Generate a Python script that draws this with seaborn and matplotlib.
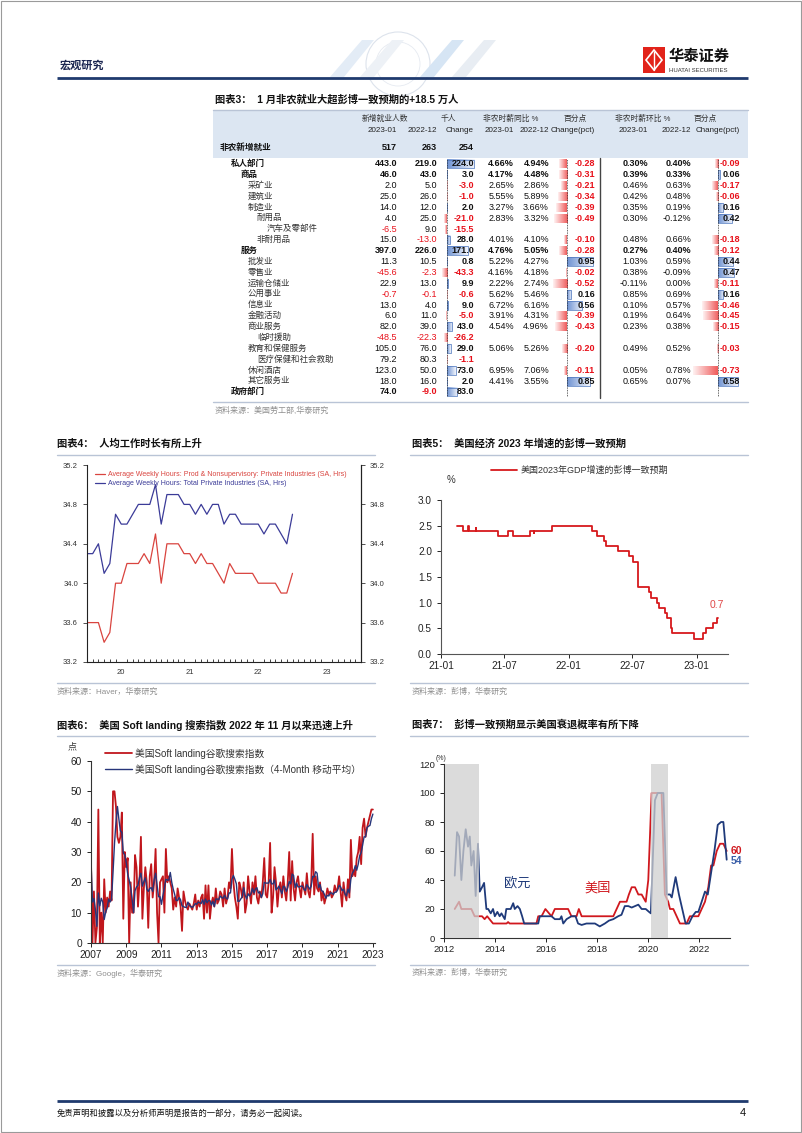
import numpy as np
import pandas as pd
import matplotlib
matplotlib.use("Agg")
import matplotlib.pyplot as plt
from matplotlib.patches import Rectangle, Polygon, Circle
from matplotlib.colors import LinearSegmentedColormap
import matplotlib.dates as mdates
import seaborn as sns

nan = np.nan
# ====================== DATA ======================
# ---- 图表3 table ----
table_title = "图表3：  1 月非农就业大超彭博一致预期的+18.5 万人"
header_top = ["新增就业人数", "千人", "非农时薪同比 %", "百分点", "非农时薪环比 %", "百分点"]
header_cols = ["2023-01", "2022-12", "Change", "2023-01", "2022-12", "Change(pct)",
               "2023-01", "2022-12", "Change(pct)"]
total_label = "非农新增就业"
total_vals = [517, 263, 254]
row_labels = ["私人部门", "商品", "采矿业", "建筑业", "制造业", "耐用品", "汽车及零部件", "非耐用品",
              "服务", "批发业", "零售业", "运输仓储业", "公用事业", "信息业", "金融活动", "商业服务",
              "临时援助", "教育和保健服务", "医疗保健和社会救助", "休闲酒店", "其它服务业", "政府部门"]
row_level = [0, 1, 2, 2, 2, 3, 4, 3, 1, 2, 2, 2, 2, 2, 2, 2, 3, 2, 3, 2, 2, 0]
bold_rows = [0, 1, 8, 21]
emp_jan = [443.0, 46.0, 2.0, 25.0, 14.0, 4.0, -6.5, 15.0, 397.0, 11.3, -45.6, 22.9, -0.7, 13.0,
           6.0, 82.0, -48.5, 105.0, 79.2, 123.0, 18.0, 74.0]
emp_dec = [219.0, 43.0, 5.0, 26.0, 12.0, 25.0, 9.0, -13.0, 226.0, 10.5, -2.3, 13.0, -0.1, 4.0,
           11.0, 39.0, -22.3, 76.0, 80.3, 50.0, 16.0, -9.0]
emp_chg = [224.0, 3.0, -3.0, -1.0, 2.0, -21.0, -15.5, 28.0, 171.0, 0.8, -43.3, 9.9, -0.6, 9.0,
           -5.0, 43.0, -26.2, 29.0, -1.1, 73.0, 2.0, 83.0]
yoy_jan = [4.66, 4.17, 2.65, 5.55, 3.27, 2.83, nan, 4.01, 4.76, 5.22, 4.16, 2.22, 5.62, 6.72,
           3.91, 4.54, nan, 5.06, nan, 6.95, 4.41, nan]
yoy_dec = [4.94, 4.48, 2.86, 5.89, 3.66, 3.32, nan, 4.10, 5.05, 4.27, 4.18, 2.74, 5.46, 6.16,
           4.31, 4.96, nan, 5.26, nan, 7.06, 3.55, nan]
yoy_chg = [-0.28, -0.31, -0.21, -0.34, -0.39, -0.49, nan, -0.10, -0.28, 0.95, -0.02, -0.52, 0.16,
           0.56, -0.39, -0.43, nan, -0.20, nan, -0.11, 0.85, nan]
mom_jan = [0.30, 0.39, 0.46, 0.42, 0.35, 0.30, nan, 0.48, 0.27, 1.03, 0.38, -0.11, 0.85, 0.10,
           0.19, 0.23, nan, 0.49, nan, 0.05, 0.65, nan]
mom_dec = [0.40, 0.33, 0.63, 0.48, 0.19, -0.12, nan, 0.66, 0.40, 0.59, -0.09, 0.00, 0.69, 0.57,
           0.64, 0.38, nan, 0.52, nan, 0.78, 0.07, nan]
mom_chg = [-0.09, 0.06, -0.17, -0.06, 0.16, 0.42, nan, -0.18, -0.12, 0.44, 0.47, -0.11, 0.16,
           -0.46, -0.45, -0.15, nan, -0.03, nan, -0.73, 0.58, nan]

# ---- 图表4 weekly hours, monthly 2020-01 .. 2023-01 ----
hours_prod = [33.6, 33.6, 33.6, 33.4, 33.5, 34.0, 34.0, 34.2, 34.2, 34.2, 34.3, 34.2,
              34.5, 34.0, 34.4, 34.4, 34.4, 34.3, 34.3, 34.2, 34.3, 34.2, 34.2, 34.1,
              34.0, 34.2, 34.1, 34.1, 34.1, 34.1, 34.0, 34.0, 34.0, 34.0, 33.9, 33.9,
              34.1]
hours_total = [34.3, 34.3, 34.4, 34.1, 34.2, 34.7, 34.6, 34.6, 34.7, 34.8, 34.8, 34.8,
               35.0, 34.6, 34.9, 34.9, 34.9, 34.8, 34.8, 34.7, 34.8, 34.7, 34.8, 34.8,
               34.6, 34.7, 34.7, 34.6, 34.6, 34.6, 34.6, 34.5, 34.6, 34.6, 34.5, 34.4,
               34.7]
hours_year_labels = ["20", "21", "22", "23"]
hours_ticks = [33.2, 33.6, 34.0, 34.4, 34.8, 35.2]

# ---- 图表5 GDP 2023 consensus (step series) ----
gdp_dates = ["2021-02-15", "2021-03-04", "2021-03-19", "2021-03-21", "2021-04-10", "2021-04-11",
             "2021-06-12", "2021-07-10", "2021-07-27", "2021-09-13", "2021-09-23", "2021-09-25",
             "2021-11-15", "2022-03-09", "2022-03-23", "2022-04-12", "2022-04-16", "2022-05-22",
             "2022-06-21", "2022-07-03", "2022-07-19", "2022-08-18", "2022-08-25", "2022-09-09",
             "2022-09-16", "2022-10-03", "2022-10-10", "2022-10-19", "2022-10-24", "2022-12-25",
             "2023-01-19", "2023-01-28", "2023-02-16", "2023-03-01", "2023-03-04"]
gdp_vals = [2.5, 2.4, 2.5, 2.4, 2.45, 2.4,
            2.3, 2.4, 2.3, 2.4, 2.35, 2.4,
            2.5, 2.4, 2.3, 2.2, 2.1, 2.0,
            1.9, 1.8, 1.3, 1.2, 1.1, 1.0,
            0.9, 0.8, 0.7, 0.5, 0.4, 0.3,
            0.4, 0.5, 0.6, 0.7, 0.7]

# ---- 图表6 Google search index, monthly 2007-01 .. 2023-01 ----
soft_2007 = [27, 0, 17, 0, 5, 44, 0, 10, 0, 21, 10, 15]
soft_2008 = [12, 17, 14, 50, 50, 45, 35, 33, 35, 43, 8, 30]
soft_2009 = [25, 28, 0, 20, 10, 10, 29, 25, 12, 20, 35, 8]
soft_2010 = [18, 25, 20, 5, 22, 26, 15, 20, 31, 10, 0, 20]
soft_2011 = [21, 22, 10, 31, 20, 22, 20, 18, 11, 15, 12, 18]
soft_2012 = [15, 12, 4, 17, 14, 12, 11, 13, 12, 11, 13, 16]
soft_2013 = [11, 14, 12, 15, 16, 8, 19, 10, 19, 8, 13, 15]
soft_2014 = [12, 18, 13, 14, 17, 16, 12, 18, 13, 15, 20, 18]
soft_2015 = [31, 20, 15, 12, 8, 20, 18, 15, 20, 10, 13, 22]
soft_2016 = [17, 13, 20, 16, 22, 15, 13, 17, 15, 20, 28, 16]
soft_2017 = [15, 20, 33, 10, 15, 25, 20, 12, 18, 20, 15, 22]
soft_2018 = [17, 14, 20, 30, 14, 27, 18, 14, 20, 22, 18, 15]
soft_2019 = [20, 18, 16, 23, 17, 15, 20, 36, 16, 22, 18, 17]
soft_2020 = [20, 14, 17, 13, 15, 18, 16, 17, 15, 16, 19, 17]
soft_2021 = [18, 22, 17, 12, 20, 16, 14, 21, 15, 34, 22, 24]
soft_2022 = [22, 28, 30, 35, 26, 38, 41, 35, 38, 40, 42, 44]
soft_2023 = [44]
soft_ma_window = 4
soft_labels = ["美国Soft landing谷歌搜索指数", "美国Soft landing谷歌搜索指数（4-Month 移动平均）"]

# ---- 图表7 recession probability (decimal year, %) ----
us_x = [2012.42, 2012.59, 2012.68, 2013.07, 2013.20, 2013.49, 2013.59, 2013.69, 2013.92, 2014.45,
        2014.51, 2014.57, 2015.62, 2015.69, 2015.82, 2015.97, 2016.21, 2016.34, 2016.86, 2016.99,
        2017.19, 2017.28, 2017.39, 2018.63, 2018.76, 2018.89, 2019.15, 2019.24, 2019.35, 2019.48,
        2019.61, 2019.74, 2019.90, 2020.00, 2020.13, 2020.52, 2020.65, 2020.78, 2020.85, 2020.98,
        2021.11, 2021.24, 2021.50, 2021.63, 2021.96, 2022.09, 2022.22, 2022.35, 2022.46, 2022.55,
        2022.68, 2022.81, 2022.94, 2023.07]
us_y = [20, 25, 20, 20, 15, 15, 13, 15, 10, 10,
        11, 10, 10, 15, 15, 20, 15, 20, 20, 15,
        15, 20, 15, 15, 20, 25, 25, 30, 35, 35,
        30, 30, 25, 40, 100, 100, 30, 25, 20, 20,
        15, 10, 10, 15, 15, 20, 25, 35, 50, 50,
        60, 65, 65, 60]
eu_x = [2012.42, 2012.51, 2012.59, 2012.68, 2012.76, 2012.85, 2012.94, 2013.01, 2013.07, 2013.16,
        2013.24, 2013.33, 2013.40, 2013.49, 2013.57, 2013.66, 2013.73, 2013.83, 2013.92, 2013.99,
        2014.09, 2014.18, 2014.25, 2014.38, 2014.44, 2014.61, 2014.71, 2014.77, 2014.88, 2014.97,
        2015.06, 2015.14, 2015.69, 2015.75, 2016.21, 2016.34, 2016.54, 2016.60, 2016.67, 2016.80,
        2016.99, 2017.15, 2017.25, 2017.39, 2017.58, 2017.91, 2018.10, 2018.30, 2018.46, 2018.63,
        2018.82, 2018.95, 2019.08, 2019.22, 2019.35, 2019.48, 2019.61, 2019.74, 2019.90, 2020.03,
        2020.10, 2020.26, 2020.37, 2020.59, 2020.72, 2020.85, 2020.92, 2021.07, 2021.20, 2021.33,
        2021.46, 2021.59, 2021.73, 2021.86, 2021.96, 2022.09, 2022.22, 2022.33, 2022.46, 2022.59,
        2022.72, 2022.85, 2022.94, 2023.07]
eu_y = [43, 73, 70, 40, 60, 75, 63, 70, 50, 60,
        29, 65, 32, 35, 38, 20, 20, 17, 20, 15,
        18, 15, 17, 13, 20, 20, 24, 20, 22, 20,
        15, 10, 10, 15, 15, 13, 13, 15, 10, 13,
        15, 15, 10, 9, 10, 10, 8, 10, 12, 13,
        15, 16, 22, 22, 21, 22, 23, 20, 20, 18,
        17, 95, 100, 100, 30, 30, 28, 42, 30, 20,
        10, 10, 15, 18, 18, 25, 32, 30, 45, 60,
        78, 80, 80, 54]
recessions = [(2012.05, 2013.37), (2020.10, 2020.76)]

# ====================== STYLE ======================
sns.set_theme(style="ticks")
plt.rcParams["font.family"] = ["Liberation Sans", "Noto Sans CJK SC", "DejaVu Sans"]
plt.rcParams["axes.unicode_minus"] = False

W, H = 802, 1133
fig = plt.figure(figsize=(W / 100, H / 100), dpi=100)
fig.patch.set_facecolor("white")


def box(x0, y0, x1, y1):
    return [x0 / W, 1 - y1 / H, (x1 - x0) / W, (y1 - y0) / H]


def pixel_axes(z):
    a = fig.add_axes([0, 0, 1, 1])
    a.set_xlim(0, W)
    a.set_ylim(H, 0)
    a.axis("off")
    a.patch.set_alpha(0)
    a.set_zorder(z)
    return a


bg = pixel_axes(0)
fg = pixel_axes(10)

NAVY = "#1f3a6e"
GRAYLINE = "#b9c4d6"
SRC = "#8f8f8f"
RED_T = "#e8101a"
TITLE_FS = 7.4

# ---- page frame / header / footer ----
bg.add_patch(Rectangle((1, 1), 800, 1131, fill=False, ec="#9a9a9a", lw=0.8))
# faint banner decoration
bg.add_patch(Circle((398, 64), 32, fill=False, ec="#dde3ec", lw=0.8))
bg.add_patch(Circle((398, 64), 22, fill=False, ec="#e6eaf1", lw=0.6))
for xs, col in [((330, 362, 374, 344), "#e3ecf6"), ((420, 452, 464, 434), "#d6e5f4"),
                ((452, 484, 496, 466), "#e8edf3"), ((360, 392, 404, 374), "#edf1f6")]:
    bg.add_patch(Polygon([(xs[0], 77), (xs[1], 40), (xs[2], 40), (xs[3], 77)], color=col, lw=0))
bg.text(60, 65, "宏观研究", fontsize=8, fontweight="bold", color="#1a2550", va="center")
bg.plot([57, 748], [77.5, 77.5], color=NAVY, lw=2, solid_capstyle="butt")
bg.add_patch(Rectangle((643, 47), 22, 26, color="#e2231a", lw=0))
bg.add_patch(Polygon([(654, 50), (662, 60), (654, 70), (646, 60)], fill=False, ec="white", lw=1.2))
bg.plot([654, 654], [52, 70], color="white", lw=1.0)
bg.text(669, 57, "华泰证券", fontsize=11, fontweight="bold", color="#111", va="center")
bg.text(669, 70, "HUATAI SECURITIES", fontsize=4.3, color="#333", va="center")
bg.plot([57, 748], [1101, 1101], color=NAVY, lw=2, solid_capstyle="butt")
bg.text(57, 1113, "免责声明和披露以及分析师声明是报告的一部分，请务必一起阅读。", fontsize=6,
        color="#111", va="center")
bg.text(746, 1113, "4", fontsize=8, color="#111", va="center", ha="right")

# ====================== TABLE ======================
bg.text(215, 100, table_title, fontsize=TITLE_FS, fontweight="bold", color="#111", va="center")
bg.plot([213, 748], [109.5, 109.5], color=GRAYLINE, lw=1)
bg.add_patch(Rectangle((213, 111), 535, 47, color="#dce6f2", lw=0))
top_x = [362, 441, 483, 563, 615, 694]
for x, s in zip(top_x, header_top):
    fg.text(x, 119, s, fontsize=5.6, color="#333", va="center")
col_x = [397, 437, 474, 514, 549, 595, 648, 691, 740]
for x, s in zip(col_x, header_cols):
    fg.text(x, 130, s, fontsize=5.8, color="#222", va="center", ha="right")
fg.text(220, 147, total_label, fontsize=6.2, fontweight="bold", color="#111", va="center")
for x, v in zip(col_x[:3], total_vals):
    fg.text(x, 147, f"{v}", fontsize=6.5, fontweight="bold", color="#111", va="center", ha="right")

row_y0, row_dy = 164.0, 10.857
n_rows = len(row_labels)
indent_x = [231, 241, 248, 257, 267]
for i, lab in enumerate(row_labels):
    y = row_y0 + i * row_dy
    b = i in bold_rows
    fg.text(indent_x[row_level[i]], y, lab, fontsize=6.1, fontweight="bold" if b else "normal",
            color="#111" if b else "#333", va="center")

    def put(j, val, fmt, neg_red, bold):
        if np.isnan(val):
            return
        c = RED_T if (neg_red and val < 0) else "#111"
        fg.text(col_x[j], y, fmt.format(val), fontsize=6.5, fontweight="bold" if bold else "normal",
                color=c, va="center", ha="right")

    put(0, emp_jan[i], "{:.1f}", True, b)
    put(1, emp_dec[i], "{:.1f}", True, b)
    put(2, emp_chg[i], "{:.1f}", True, True)
    put(3, yoy_jan[i], "{:.2f}%", False, b)
    put(4, yoy_dec[i], "{:.2f}%", False, b)
    put(5, yoy_chg[i], "{:.2f}", True, True)
    put(6, mom_jan[i], "{:.2f}%", False, b)
    put(7, mom_dec[i], "{:.2f}%", False, b)
    put(8, mom_chg[i], "{:.2f}", True, True)

bg.plot([600, 600], [158, 398], color="#444", lw=1)
bg.plot([213, 748], [402, 402], color=GRAYLINE, lw=1)
bg.text(215, 411, "资料来源：美国劳工部,华泰研究", fontsize=5.8, color=SRC, va="center")

cm_pos = LinearSegmentedColormap.from_list("pos", ["#6e92d2", "#f3f6fc"])
cm_neg = LinearSegmentedColormap.from_list("neg", ["#fff2f2", "#ef5a5a"])
grad = np.linspace(0, 1, 100).reshape(1, -1)


def data_bar_axes(x_left, x_zero, x_right, px_per_unit, vals):
    ax = fig.add_axes(box(x_left, row_y0 - row_dy / 2, x_right, row_y0 + (n_rows - 0.5) * row_dy))
    ax.set_zorder(5)
    ax.patch.set_alpha(0)
    xl = ((x_left - x_zero) / px_per_unit, (x_right - x_zero) / px_per_unit)
    idx = [i for i, v in enumerate(vals) if not np.isnan(v)]
    vv = [vals[i] for i in idx]
    bars = ax.barh(idx, vv, height=0.82, color="none", edgecolor="none")
    for p, v in zip(bars.patches, vv):
        xa, xb = sorted([p.get_x(), p.get_x() + p.get_width()])
        y0, h = p.get_y(), p.get_height()
        ax.imshow(grad, extent=[xa, xb, y0 + h, y0], cmap=cm_pos if v > 0 else cm_neg,
                  aspect="auto", zorder=1, interpolation="bilinear")
        if v > 0:
            p.set_edgecolor("#4a74bd")
            p.set_linewidth(0.5)
            p.set_zorder(2)
    ax.axvline(0, color="#333", lw=0.6, ls=(0, (1, 1)), zorder=3)
    ax.set_xlim(*xl)
    ax.set_ylim(n_rows - 0.5, -0.5)
    ax.axis("off")
    return ax


data_bar_axes(430, 447, 480, 0.122, emp_chg)
data_bar_axes(550, 567, 598, 27.0, yoy_chg)
data_bar_axes(692, 718, 742, 34.0, mom_chg)

# ====================== 图表4 ======================
C4R, C4B = "#d9443f", "#3b3b98"
bg.text(57, 444, "图表4：  人均工作时长有所上升", fontsize=TITLE_FS, fontweight="bold", color="#111", va="center")
bg.plot([57, 375], [455, 455], color=GRAYLINE, lw=1)
a4 = fig.add_axes(box(87, 465, 361, 662))
a4.set_zorder(3)
m4 = np.arange(len(hours_total))
sns.lineplot(x=m4, y=hours_prod, ax=a4, color=C4R, lw=0.9, estimator=None,
             label="Average Weekly Hours: Prod & Nonsupervisory: Private Industries (SA, Hrs)")
sns.lineplot(x=m4, y=hours_total, ax=a4, color=C4B, lw=0.9, estimator=None,
             label="Average Weekly Hours: Total Private Industries (SA, Hrs)")
a4.set_xlim(0, 48)
a4.set_ylim(33.2, 35.2)
a4.set_yticks(hours_ticks)
a4.set_yticklabels([f"{v:.1f}" for v in hours_ticks])
a4.set_xticks([6, 18, 30, 42])
a4.set_xticklabels(hours_year_labels)
a4.set_xticks(np.arange(0, 49), minor=True)
a4.tick_params(axis="x", which="major", length=0, labelsize=5.5, pad=5, colors="#333")
a4.tick_params(axis="x", which="minor", direction="in", length=2.5, width=0.6, color="#222")
a4.tick_params(axis="y", direction="out", length=3, width=0.6, labelsize=5.5, colors="#333")
for s in ["left", "right", "bottom"]:
    a4.spines[s].set_color("#222")
    a4.spines[s].set_linewidth(0.8)
a4.spines["top"].set_visible(False)
a4.set_xlabel("")
a4.set_ylabel("")
leg = a4.legend(loc="upper left", bbox_to_anchor=(95 / W, 1 - 471 / H), bbox_transform=fig.transFigure,
                frameon=False, fontsize=5, handlelength=1.5, handletextpad=0.4, labelspacing=0.3,
                borderaxespad=0, borderpad=0)
for t, c in zip(leg.get_texts(), [C4R, C4B]):
    t.set_color(c)
a4r = a4.twinx()
a4r.set_ylim(33.2, 35.2)
a4r.set_yticks(hours_ticks)
a4r.set_yticklabels([f"{v:.1f}" for v in hours_ticks])
a4r.tick_params(axis="y", direction="out", length=3, width=0.6, labelsize=5.5, colors="#333")
for s in ["top", "left", "bottom"]:
    a4r.spines[s].set_visible(False)
a4r.spines["right"].set_color("#222")
a4r.spines["right"].set_linewidth(0.8)
a4r.grid(False)
bg.plot([57, 375], [683, 683], color=GRAYLINE, lw=1)
bg.text(57, 692, "资料来源：Haver，华泰研究", fontsize=5.8, color=SRC, va="center")

# ====================== 图表5 ======================
C5 = "#d7191c"
bg.text(412, 444, "图表5：  美国经济 2023 年增速的彭博一致预期", fontsize=TITLE_FS, fontweight="bold",
        color="#111", va="center")
bg.plot([410, 748], [455, 455], color=GRAYLINE, lw=1)
a5 = fig.add_axes(box(441, 500, 728, 654))
a5.set_zorder(3)
d5 = pd.to_datetime(gdp_dates)
sns.lineplot(x=d5, y=gdp_vals, ax=a5, color=C5, lw=1.3, estimator=None, drawstyle="steps-post",
             label="美国2023年GDP增速的彭博一致预期")
a5.set_xlim(pd.Timestamp("2021-01-01"), pd.Timestamp("2023-04-01"))
a5.set_ylim(0, 3.0)
a5.set_yticks(np.arange(0, 3.01, 0.5))
a5.yaxis.set_major_formatter(matplotlib.ticker.FormatStrFormatter("%.1f"))
a5.xaxis.set_major_locator(mdates.MonthLocator(bymonth=[1, 7]))
a5.xaxis.set_major_formatter(mdates.DateFormatter("%y-%m"))
a5.tick_params(axis="both", direction="out", length=3, width=0.7, labelsize=7.2, colors="#222")
a5.tick_params(axis="x", pad=2)
for s in ["left", "bottom"]:
    a5.spines[s].set_color("#555")
    a5.spines[s].set_linewidth(0.8)
for s in ["top", "right"]:
    a5.spines[s].set_visible(False)
a5.set_xlabel("")
a5.set_ylabel("")
leg5 = a5.legend(loc="upper left", bbox_to_anchor=(491 / W, 1 - 466 / H), bbox_transform=fig.transFigure,
                 frameon=False, fontsize=6.5, handlelength=2.9, handletextpad=0.35,
                 borderaxespad=0, borderpad=0)
for t in leg5.get_texts():
    t.set_color("#333")
a5.text(pd.Timestamp("2023-03-01"), 0.96, f"{gdp_vals[-1]:.1f}", color="#e04848", fontsize=7.5,
        ha="center", va="center")
bg.text(447, 480, "%", fontsize=7, color="#333", va="center")
bg.plot([410, 748], [683, 683], color=GRAYLINE, lw=1)
bg.text(412, 692, "资料来源：彭博，华泰研究", fontsize=5.8, color=SRC, va="center")

# ====================== 图表6 ======================
C6R, C6B = "#c0161c", "#27357a"
bg.text(57, 725, "图表6：  美国 Soft landing 搜索指数 2022 年 11 月以来迅速上升", fontsize=TITLE_FS,
        fontweight="bold", color="#111", va="center")
bg.plot([57, 375], [736, 736], color=GRAYLINE, lw=1)
soft = (soft_2007 + soft_2008 + soft_2009 + soft_2010 + soft_2011 + soft_2012 + soft_2013 + soft_2014 +
        soft_2015 + soft_2016 + soft_2017 + soft_2018 + soft_2019 + soft_2020 + soft_2021 + soft_2022 +
        soft_2023)
x6 = 2007 + np.arange(len(soft)) / 12.0
soft_ma = pd.Series(soft, dtype=float).rolling(soft_ma_window, min_periods=1).mean().values
a6 = fig.add_axes(box(91, 761, 375, 943))
a6.set_zorder(3)
sns.lineplot(x=x6, y=soft, ax=a6, color=C6R, lw=1.3, estimator=None, label=soft_labels[0])
sns.lineplot(x=x6, y=soft_ma, ax=a6, color=C6B, lw=1.0, estimator=None, label=soft_labels[1])
a6.set_xlim(2007, 2023.12)
a6.set_ylim(0, 60)
a6.set_yticks(np.arange(0, 61, 10))
a6.set_xticks(np.arange(2007, 2024, 2))
a6.set_xticklabels([str(y) for y in range(2007, 2024, 2)])
a6.tick_params(axis="both", direction="out", length=3, width=0.7, labelsize=7.3, colors="#222")
a6.tick_params(axis="x", pad=2)
for s in ["left", "bottom"]:
    a6.spines[s].set_color("#333")
    a6.spines[s].set_linewidth(0.8)
for s in ["top", "right"]:
    a6.spines[s].set_visible(False)
a6.set_xlabel("")
a6.set_ylabel("")
leg6 = a6.legend(loc="upper left", bbox_to_anchor=(105 / W, 1 - 748 / H), bbox_transform=fig.transFigure,
                 frameon=False, fontsize=7, handlelength=2.8, handletextpad=0.3, labelspacing=0.55,
                 borderaxespad=0, borderpad=0)
for t in leg6.get_texts():
    t.set_color("#333")
bg.text(68, 747, "点", fontsize=6.5, color="#333", va="center")
bg.plot([57, 375], [965, 965], color=GRAYLINE, lw=1)
bg.text(57, 973, "资料来源：Google，华泰研究", fontsize=5.8, color=SRC, va="center")

# ====================== 图表7 ======================
C7R, C7B = "#d0181e", "#1f3a7a"
bg.text(412, 725, "图表7：  彭博一致预期显示美国衰退概率有所下降", fontsize=TITLE_FS, fontweight="bold",
        color="#111", va="center")
bg.plot([410, 748], [736, 736], color=GRAYLINE, lw=1)
a7 = fig.add_axes(box(444, 764, 730, 938))
a7.set_zorder(3)
sns.lineplot(x=us_x, y=us_y, ax=a7, color=C7R, lw=1.3, estimator=None, sort=False)
sns.lineplot(x=eu_x, y=eu_y, ax=a7, color=C7B, lw=1.3, estimator=None, sort=False)
for x0, x1 in recessions:
    a7.axvspan(x0, x1, color="#cfcfcf", alpha=0.75, lw=0, zorder=4)
a7.set_xlim(2012, 2023.2)
a7.set_ylim(0, 120)
a7.set_yticks(np.arange(0, 121, 20))
a7.set_xticks(np.arange(2012, 2023, 2))
a7.set_xticklabels([str(y) for y in range(2012, 2023, 2)])
a7.tick_params(axis="both", direction="out", length=3, width=0.7, labelsize=6.8, colors="#222")
a7.tick_params(axis="x", pad=2)
for s in ["left", "bottom"]:
    a7.spines[s].set_color("#333")
    a7.spines[s].set_linewidth(0.8)
for s in ["top", "right"]:
    a7.spines[s].set_visible(False)
a7.set_xlabel("")
a7.set_ylabel("")
a7.text(2014.86, 38, "欧元", color=C7B, fontsize=9.5, ha="center", va="center", zorder=6)
a7.text(2018.0, 34.5, "美国", color=C7R, fontsize=9.5, ha="center", va="center", zorder=6)
a7.text(2023.22, 60, f"{us_y[-1]}", color=C7R, fontsize=7.5, fontweight="bold", ha="left",
        va="center", clip_on=False)
a7.text(2023.22, 53, f"{eu_y[-1]}", color="#3a5fa8", fontsize=7.5, fontweight="bold", ha="left",
        va="center", clip_on=False)
bg.text(436, 758, "(%)", fontsize=5, color="#333", va="center")
bg.plot([410, 748], [965, 965], color=GRAYLINE, lw=1)
bg.text(412, 973, "资料来源：彭博，华泰研究", fontsize=5.8, color=SRC, va="center")

fig.savefig("out.png", dpi=100, facecolor="white")
